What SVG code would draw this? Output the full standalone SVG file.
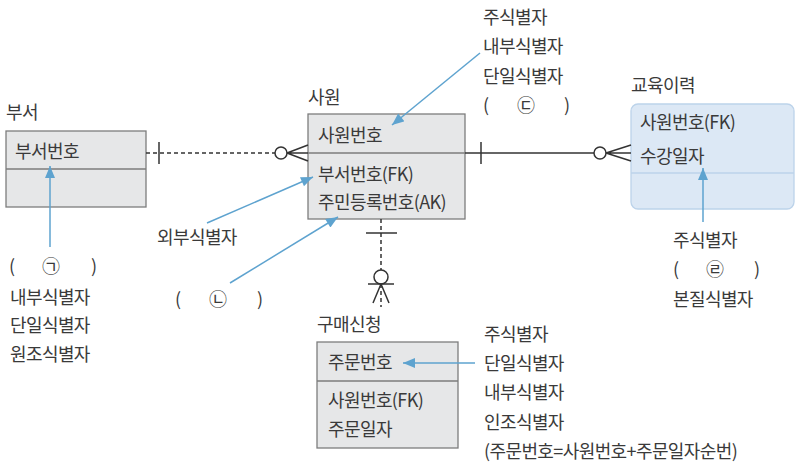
<svg xmlns="http://www.w3.org/2000/svg" width="800" height="468" viewBox="0 0 800 468">
<defs>
<style>
text{font-family:"Noto Sans CJK KR","Noto Sans",sans-serif;font-size:18px;letter-spacing:-0.6px;fill:#3a3a3a}
.box{fill:#e6e7e8;stroke:#7d7d7d;stroke-width:1.3}
.div{stroke:#7d7d7d;stroke-width:1.3}
.edu{fill:#dce8f5;stroke:#bcd3ea;stroke-width:1.3}
.edudiv{stroke:#bcd3ea;stroke-width:1.3}
.ln{stroke:#333;stroke-width:1.5;fill:none}
.dash{stroke-dasharray:4 3}
.blue{stroke:#5ea3cf;stroke-width:1.5;fill:none;marker-end:url(#ah)}
</style>
<marker id="ah" viewBox="0 0 12 10" refX="12" refY="5" markerWidth="13" markerHeight="10" markerUnits="userSpaceOnUse" orient="auto">
<path d="M0,0 L12,5 L0,10 Z" fill="#5ea3cf"/>
</marker>
</defs>

<g id="dept">
<text x="6" y="119">부서</text>
<rect class="box" x="6" y="131" width="140" height="76"/>
<line class="div" x1="6" y1="169" x2="146" y2="169"/>
<text x="15" y="158">부서번호</text>
</g>

<g id="emp">
<text x="308" y="104">사원</text>
<rect class="box" x="308" y="114" width="157" height="105"/>
<line class="div" x1="308" y1="153" x2="465" y2="153"/>
<text x="318" y="142">사원번호</text>
<text x="318" y="181">부서번호(FK)</text>
<text x="318" y="209">주민등록번호(AK)</text>
</g>

<g id="edu">
<text x="631" y="92">교육이력</text>
<rect class="edu" x="631" y="104" width="163" height="105" rx="7"/>
<line class="edudiv" x1="631" y1="173" x2="794" y2="173"/>
<text x="640" y="129">사원번호(FK)</text>
<text x="640" y="163">수강일자</text>
</g>

<g id="order">
<text x="317" y="331">구매신청</text>
<rect class="box" x="317" y="342" width="141" height="106"/>
<line class="div" x1="317" y1="381" x2="458" y2="381"/>
<text x="328" y="369">주문번호</text>
<text x="328" y="407">사원번호(FK)</text>
<text x="328" y="436">주문일자</text>
</g>

<g id="connectors">
<!-- dept - emp -->
<line class="ln dash" x1="146" y1="153" x2="275" y2="153"/>
<line class="ln" x1="159" y1="142" x2="159" y2="164"/>
<circle class="ln" cx="281" cy="153" r="6"/>
<path class="ln" d="M287,153 L308,153 M287,153 L308,145 M287,153 L308,161"/>
<!-- emp - edu -->
<line class="ln" x1="465" y1="153" x2="594" y2="153"/>
<line class="ln" x1="481" y1="142" x2="481" y2="164"/>
<circle class="ln" cx="600" cy="153" r="6"/>
<path class="ln" d="M606,153 L631,153 M606,153 L631,145 M606,153 L631,161"/>
<!-- emp - order -->
<line class="ln dash" x1="381" y1="219" x2="381" y2="270"/>
<line class="ln" x1="366" y1="233" x2="397" y2="233"/>
<circle class="ln" cx="381" cy="277" r="7"/>
<line class="ln" x1="368" y1="284" x2="394" y2="284"/>
<path class="ln" d="M381,284 L373,303 M381,284 L389,303"/>
<line class="ln dash" x1="381" y1="284" x2="381" y2="307"/>
</g>

<g id="annotations">
<line class="blue" x1="50" y1="247" x2="50" y2="166"/>
<line class="blue" x1="480" y1="53" x2="392" y2="125"/>
<line class="blue" x1="207" y1="223" x2="313" y2="177"/>
<line class="blue" x1="230" y1="283" x2="338" y2="217"/>
<line class="blue" x1="703" y1="222" x2="703" y2="168"/>
<line class="blue" x1="475" y1="363" x2="403" y2="363"/>

<text x="483" y="24">주식별자</text>
<text x="483" y="53">내부식별자</text>
<text x="483" y="83">단일식별자</text>
<text x="483" y="112">(</text><text x="517" y="112">㉢</text><text x="564" y="112">)</text>

<text x="9" y="273">(</text><text x="42" y="273">㉠</text><text x="91" y="273">)</text>
<text x="10" y="304">내부식별자</text>
<text x="10" y="332">단일식별자</text>
<text x="10" y="361">원조식별자</text>

<text x="157" y="244">외부식별자</text>
<text x="175" y="306">(</text><text x="209" y="306">㉡</text><text x="257" y="306">)</text>

<text x="673" y="247">주식별자</text>
<text x="673" y="276">(</text><text x="706" y="276">㉣</text><text x="754" y="276">)</text>
<text x="673" y="306">본질식별자</text>

<text x="484" y="341">주식별자</text>
<text x="484" y="370">단일식별자</text>
<text x="484" y="399">내부식별자</text>
<text x="484" y="429">인조식별자</text>
<text x="484" y="458">(주문번호=사원번호+주문일자순번)</text>
</g>
</svg>
